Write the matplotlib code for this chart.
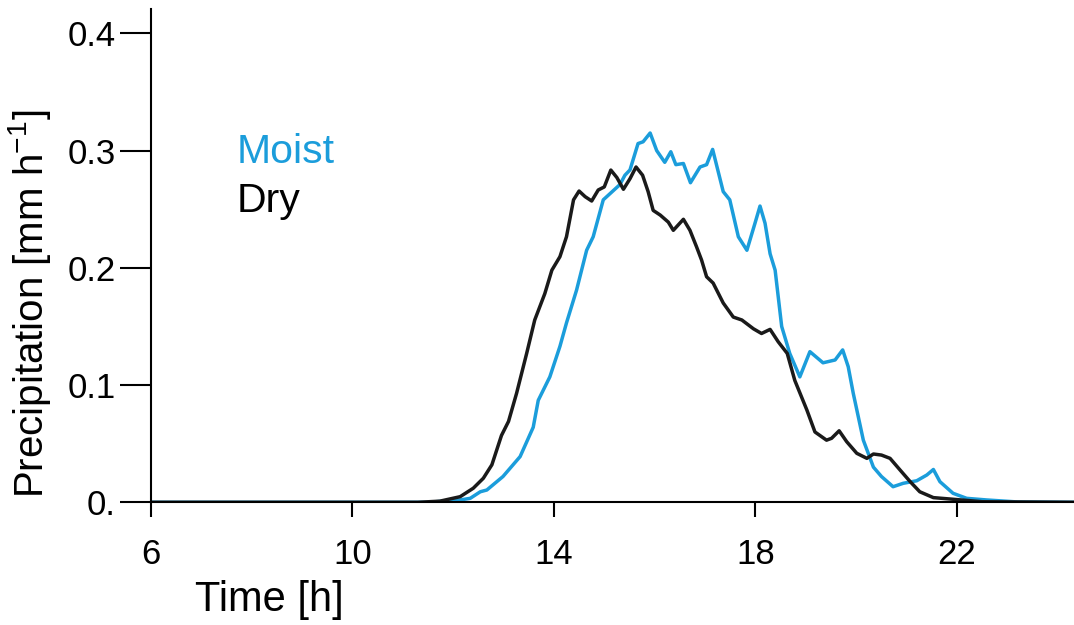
import numpy as np
import matplotlib
matplotlib.use("Agg")
import matplotlib.pyplot as plt

# --- DATA ---
moist_t = [6.0, 11.5, 12.14, 12.34, 12.54, 12.67, 12.99, 13.33, 13.59, 13.69, 13.92,
           14.12, 14.25, 14.45, 14.65, 14.78, 14.98, 15.31, 15.41, 15.51, 15.67, 15.77,
           15.91, 16.04, 16.20, 16.32, 16.42, 16.57, 16.71, 16.90, 17.03, 17.15, 17.36,
           17.49, 17.66, 17.83, 17.99, 18.09, 18.19, 18.29, 18.39, 18.52, 18.68, 18.88,
           19.08, 19.34, 19.58, 19.73, 19.84, 19.94, 20.14, 20.34, 20.50, 20.73, 20.93,
           21.20, 21.40, 21.53, 21.66, 21.92, 22.19, 22.59, 23.2, 24.32]
moist_v = [0.0, 0.0, 0.002, 0.0034, 0.009, 0.0105, 0.022, 0.039, 0.064, 0.087, 0.107,
           0.133, 0.153, 0.181, 0.215, 0.2265, 0.258, 0.271, 0.279, 0.2835, 0.306, 0.3075,
           0.315, 0.300, 0.290, 0.299, 0.288, 0.289, 0.2726, 0.286, 0.288, 0.301, 0.265,
           0.258, 0.2265, 0.215, 0.238, 0.2527, 0.238, 0.212, 0.198, 0.150, 0.127, 0.107,
           0.1285, 0.119, 0.1214, 0.130, 0.1157, 0.093, 0.053, 0.030, 0.022, 0.0133, 0.0162,
           0.0184, 0.0233, 0.028, 0.0176, 0.0077, 0.0034, 0.002, 0.0003, 0.0]

dry_t = [6.0, 11.3, 11.74, 12.14, 12.40, 12.60, 12.77, 12.96, 13.10, 13.26, 13.46,
         13.62, 13.82, 13.96, 14.12, 14.25, 14.39, 14.50, 14.62, 14.75, 14.88, 15.00,
         15.13, 15.25, 15.38, 15.51, 15.63, 15.76, 15.87, 15.97, 16.11, 16.27, 16.37,
         16.57, 16.70, 16.83, 16.93, 17.03, 17.16, 17.36, 17.56, 17.73, 17.96, 18.12,
         18.29, 18.45, 18.63, 18.78, 19.02, 19.18, 19.41, 19.51, 19.66, 19.81, 20.01,
         20.21, 20.34, 20.50, 20.67, 20.87, 21.07, 21.26, 21.53, 21.92, 22.5, 24.32]
dry_v = [0.0, 0.0, 0.001, 0.0048, 0.012, 0.0205, 0.032, 0.057, 0.069, 0.093, 0.127,
         0.1555, 0.178, 0.198, 0.2095, 0.2265, 0.258, 0.2655, 0.2607, 0.257, 0.2664, 0.269,
         0.2834, 0.277, 0.267, 0.276, 0.286, 0.279, 0.265, 0.249, 0.245, 0.239, 0.232,
         0.2414, 0.232, 0.218, 0.2067, 0.1924, 0.187, 0.170, 0.158, 0.1555, 0.148, 0.144,
         0.1475, 0.137, 0.127, 0.104, 0.0787, 0.060, 0.053, 0.0546, 0.061, 0.0517, 0.0418,
         0.0375, 0.0412, 0.0403, 0.0375, 0.0275, 0.0176, 0.009, 0.004, 0.0026, 0.0005, 0.0]

x_ticks = [6, 10, 14, 18, 22]
y_ticks = [0.0, 0.1, 0.2, 0.3, 0.4]
y_tick_labels = ["0.", "0.1", "0.2", "0.3", "0.4"]

# --- STYLE ---
C_MOIST = "#1b9ddb"
C_DRY = "#1a1a1a"
plt.rcParams["font.family"] = ["Liberation Sans", "DejaVu Sans"]
plt.rcParams["mathtext.fontset"] = "custom"
plt.rcParams["mathtext.rm"] = "Liberation Sans"

fig = plt.figure(figsize=(10.74, 6.25), dpi=100)
ax = fig.add_axes([0.1403, 0.1963, 1 - 0.1403, 0.9851 - 0.1963])

ax.plot(moist_t, moist_v, color=C_MOIST, lw=2.5, solid_joinstyle="round")
ax.plot(dry_t, dry_v, color=C_DRY, lw=2.5, solid_joinstyle="round")

ax.set_xlim(6, 24.32)
ax.set_ylim(0, 0.4205)

for s in ["top", "right"]:
    ax.spines[s].set_visible(False)
for s in ["left", "bottom"]:
    ax.spines[s].set_linewidth(1.5)

ax.set_xticks(x_ticks)
ax.set_xticklabels([str(t) for t in x_ticks])
ax.set_yticks(y_ticks)
ax.set_yticklabels(y_tick_labels)
ax.tick_params(axis="x", direction="out", length=11, width=1.5, pad=15, labelsize=25)
ax.tick_params(axis="y", direction="out", length=22, width=1.5, pad=3, labelsize=25)
ax.minorticks_off()

ax.set_xlabel("Time [h]", fontsize=30, va="baseline")
ax.xaxis.set_label_coords(0.129, -0.2205)
ax.set_ylabel("Precipitation [mm h$^{\\mathregular{-1}}$]", fontsize=29)
ax.yaxis.set_label_coords(-0.106, 0.403)

ax.text(7.706, 0.2896, "Moist", color=C_MOIST, fontsize=29.5, va="baseline", ha="left")
ax.text(7.706, 0.2478, "Dry", color="black", fontsize=29.5, va="baseline", ha="left")

plt.savefig("out.png", dpi=100)
plt.close()
